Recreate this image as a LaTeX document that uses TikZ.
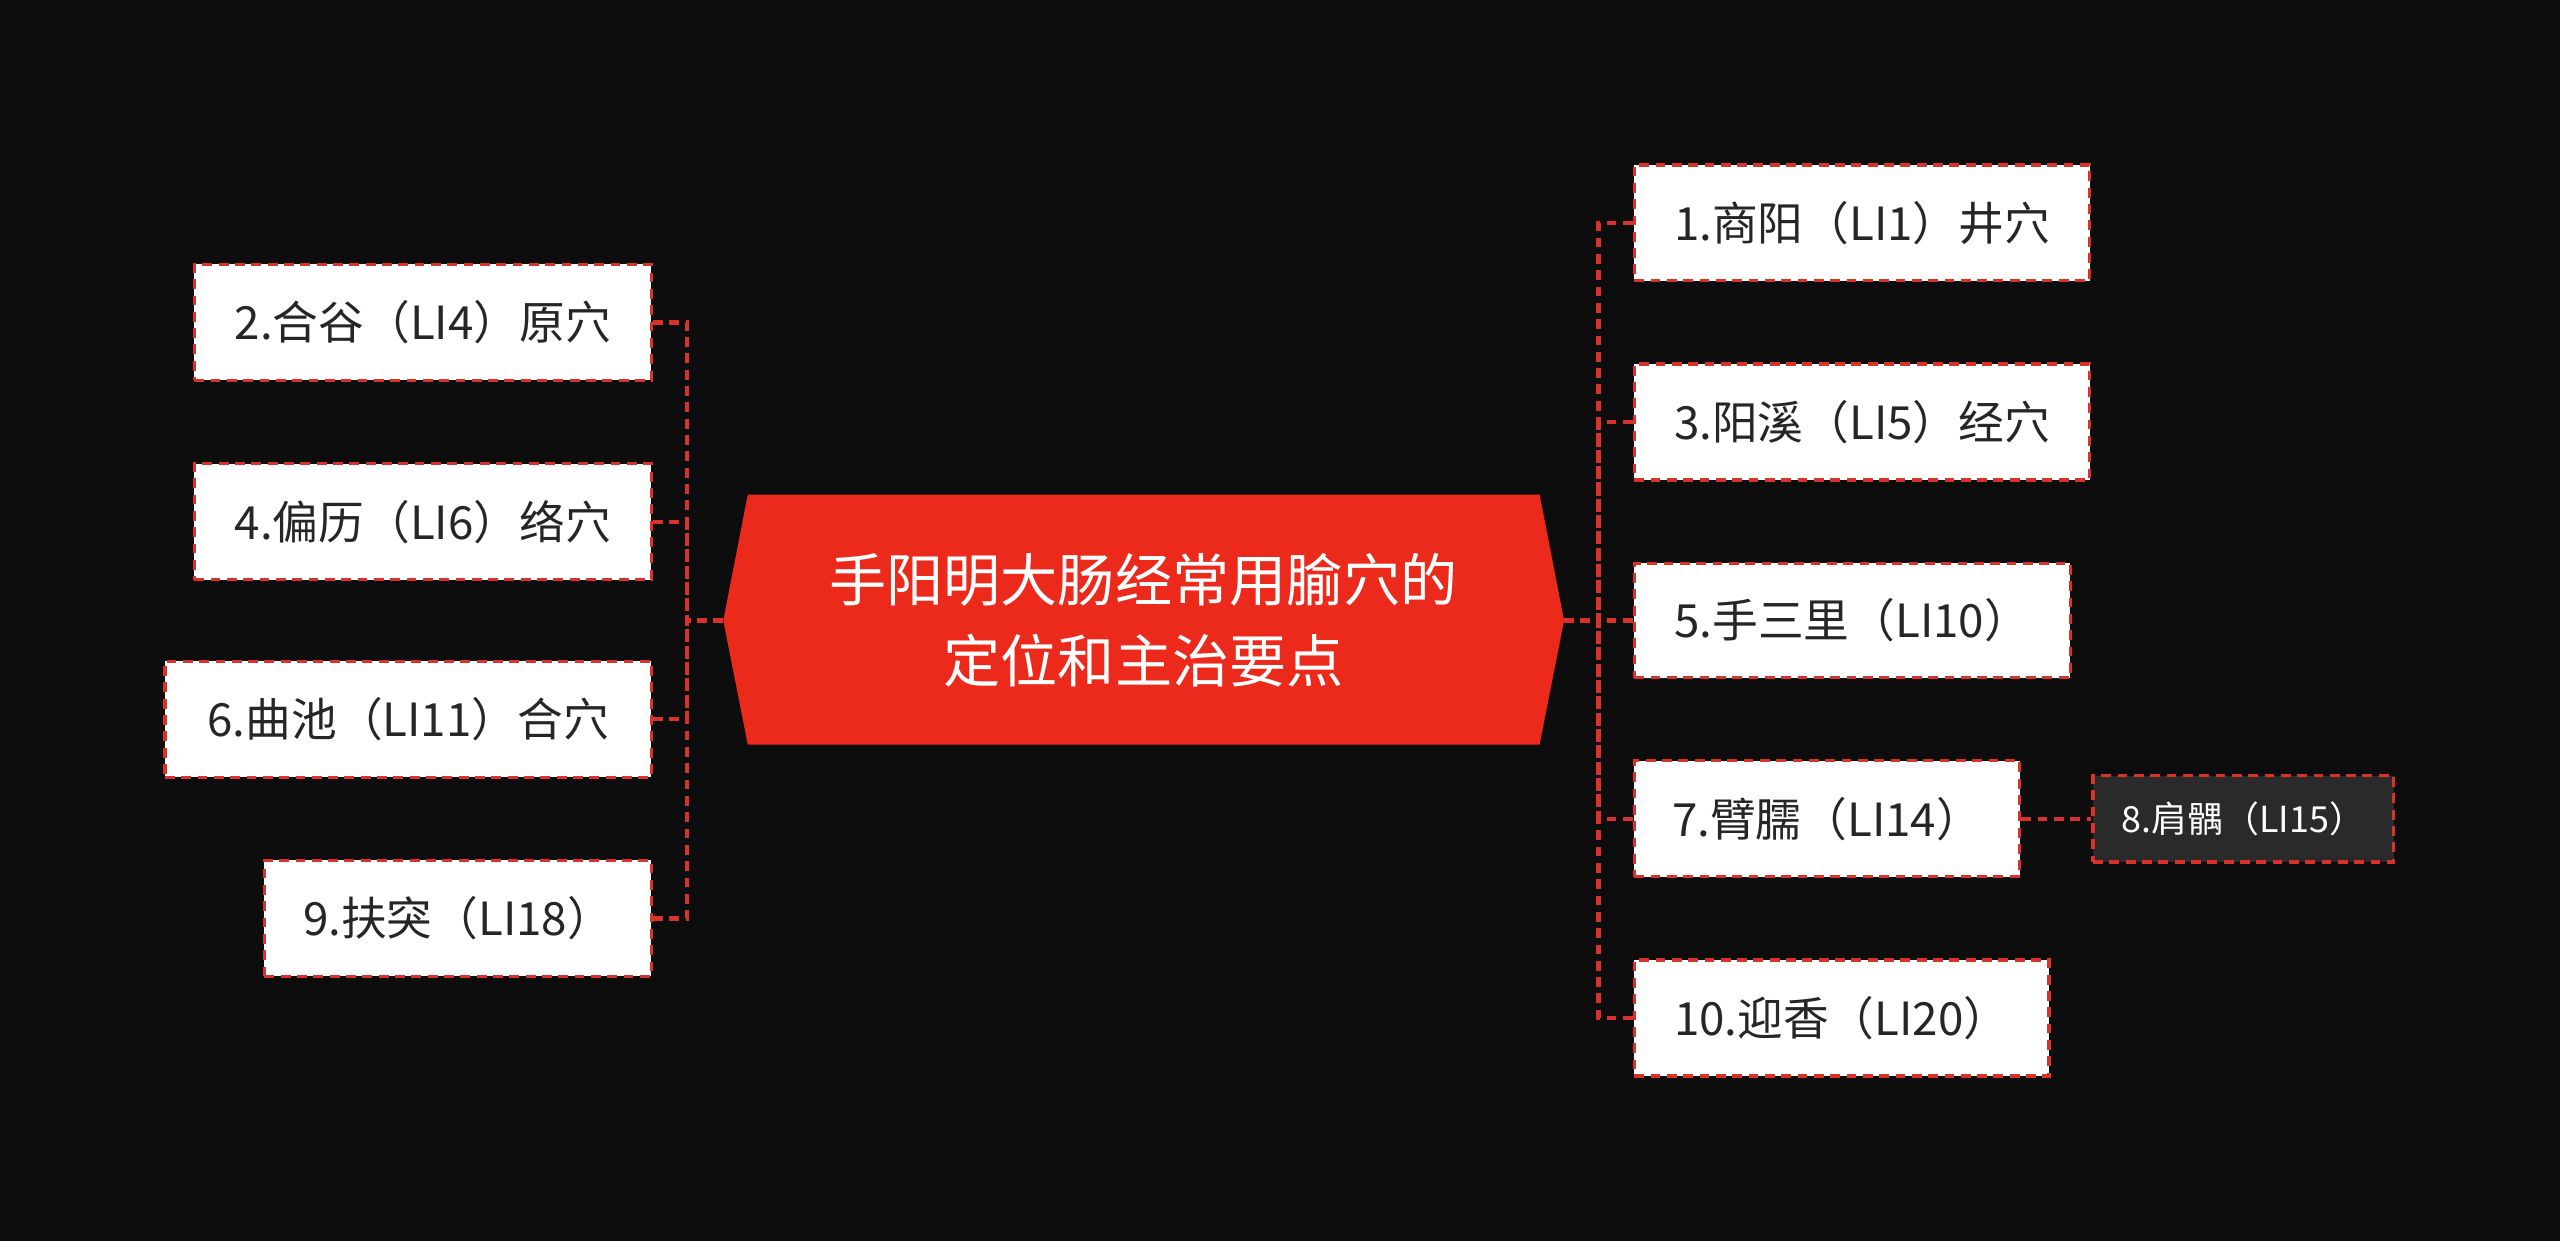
\documentclass[tikz,border=0pt]{standalone}
\usepackage{fontspec}
\setmainfont{Noto Sans CJK SC}
\definecolor{bg}{HTML}{0D0D0D}
\definecolor{hred}{HTML}{EC2A1B}
\definecolor{lred}{HTML}{D9322A}
\definecolor{dbox}{HTML}{2A2A2A}
\begin{document}
\begin{tikzpicture}[x=0.5pt,y=-0.5pt,
  leaf/.style={draw=lred,dashed,line width=1pt,fill=white,text=black!85,font=\fontsize{14}{16}\selectfont,inner sep=0pt,dash pattern=on 3pt off 2pt},
  dleaf/.style={leaf,fill=dbox,text=white,font=\fontsize{11}{13}\selectfont},
  conn/.style={draw=lred,line width=1.3pt,dash pattern=on 3pt off 2pt}]
\fill[bg] (0,0) rectangle (1568,760);
\useasboundingbox (0,0) rectangle (1568,760);
\fill[hred] (443,380) -- (458,303) -- (943,303) -- (958,380) -- (943,456) -- (458,456) -- cycle;
\node[text=white,align=center,font=\fontsize{17.5}{25}\selectfont] (c) at (700.5,380) {手阳明大肠经常用腧穴的\\定位和主治要点};
\coordinate (cl) at (443,380);
\coordinate (cr) at (958,380);
\newcommand{\leafbox}[6]{\node[#6,minimum width=#3*0.5pt-#1*0.5pt,minimum height=#4*0.5pt-#2*0.5pt] (#5) at ({(#1+#3)/2},{(#2+#4)/2})}
\leafbox{119}{162}{399}{233}{n2}{leaf}{2.合谷（LI4）原穴};
\leafbox{119}{284}{399}{355}{n4}{leaf}{4.偏历（LI6）络穴};
\leafbox{101}{405}{399}{476}{n6}{leaf}{6.曲池（LI11）合穴};
\leafbox{162}{527}{399}{598}{n9}{leaf}{9.扶突（LI18）};
\leafbox{1001}{101}{1280}{172}{n1}{leaf}{1.商阳（LI1）井穴};
\leafbox{1001}{223}{1280}{294}{n3}{leaf}{3.阳溪（LI5）经穴};
\leafbox{1001}{345}{1268}{415}{n5}{leaf}{5.手三里（LI10）};
\leafbox{1001}{466}{1237}{537}{n7}{leaf}{7.臂臑（LI14）};
\leafbox{1001}{588}{1255}{659}{n10}{leaf}{10.迎香（LI20）};
\leafbox{1282}{475}{1466}{528}{n8}{dleaf}{8.肩髃（LI15）};
\coordinate (lt) at (421,380);
\coordinate (rt) at (979,380);
\draw[conn] (cl) -- (lt);
\foreach \n in {n2,n4,n6,n9} \draw[conn] (\n.east) -| (lt);
\draw[conn] (cr) -- (rt);
\foreach \n in {n1,n3,n5,n7,n10} \draw[conn] (\n.west) -| (rt);
\draw[conn] (n7.east) -- (n8.west);
\end{tikzpicture}
\end{document}
